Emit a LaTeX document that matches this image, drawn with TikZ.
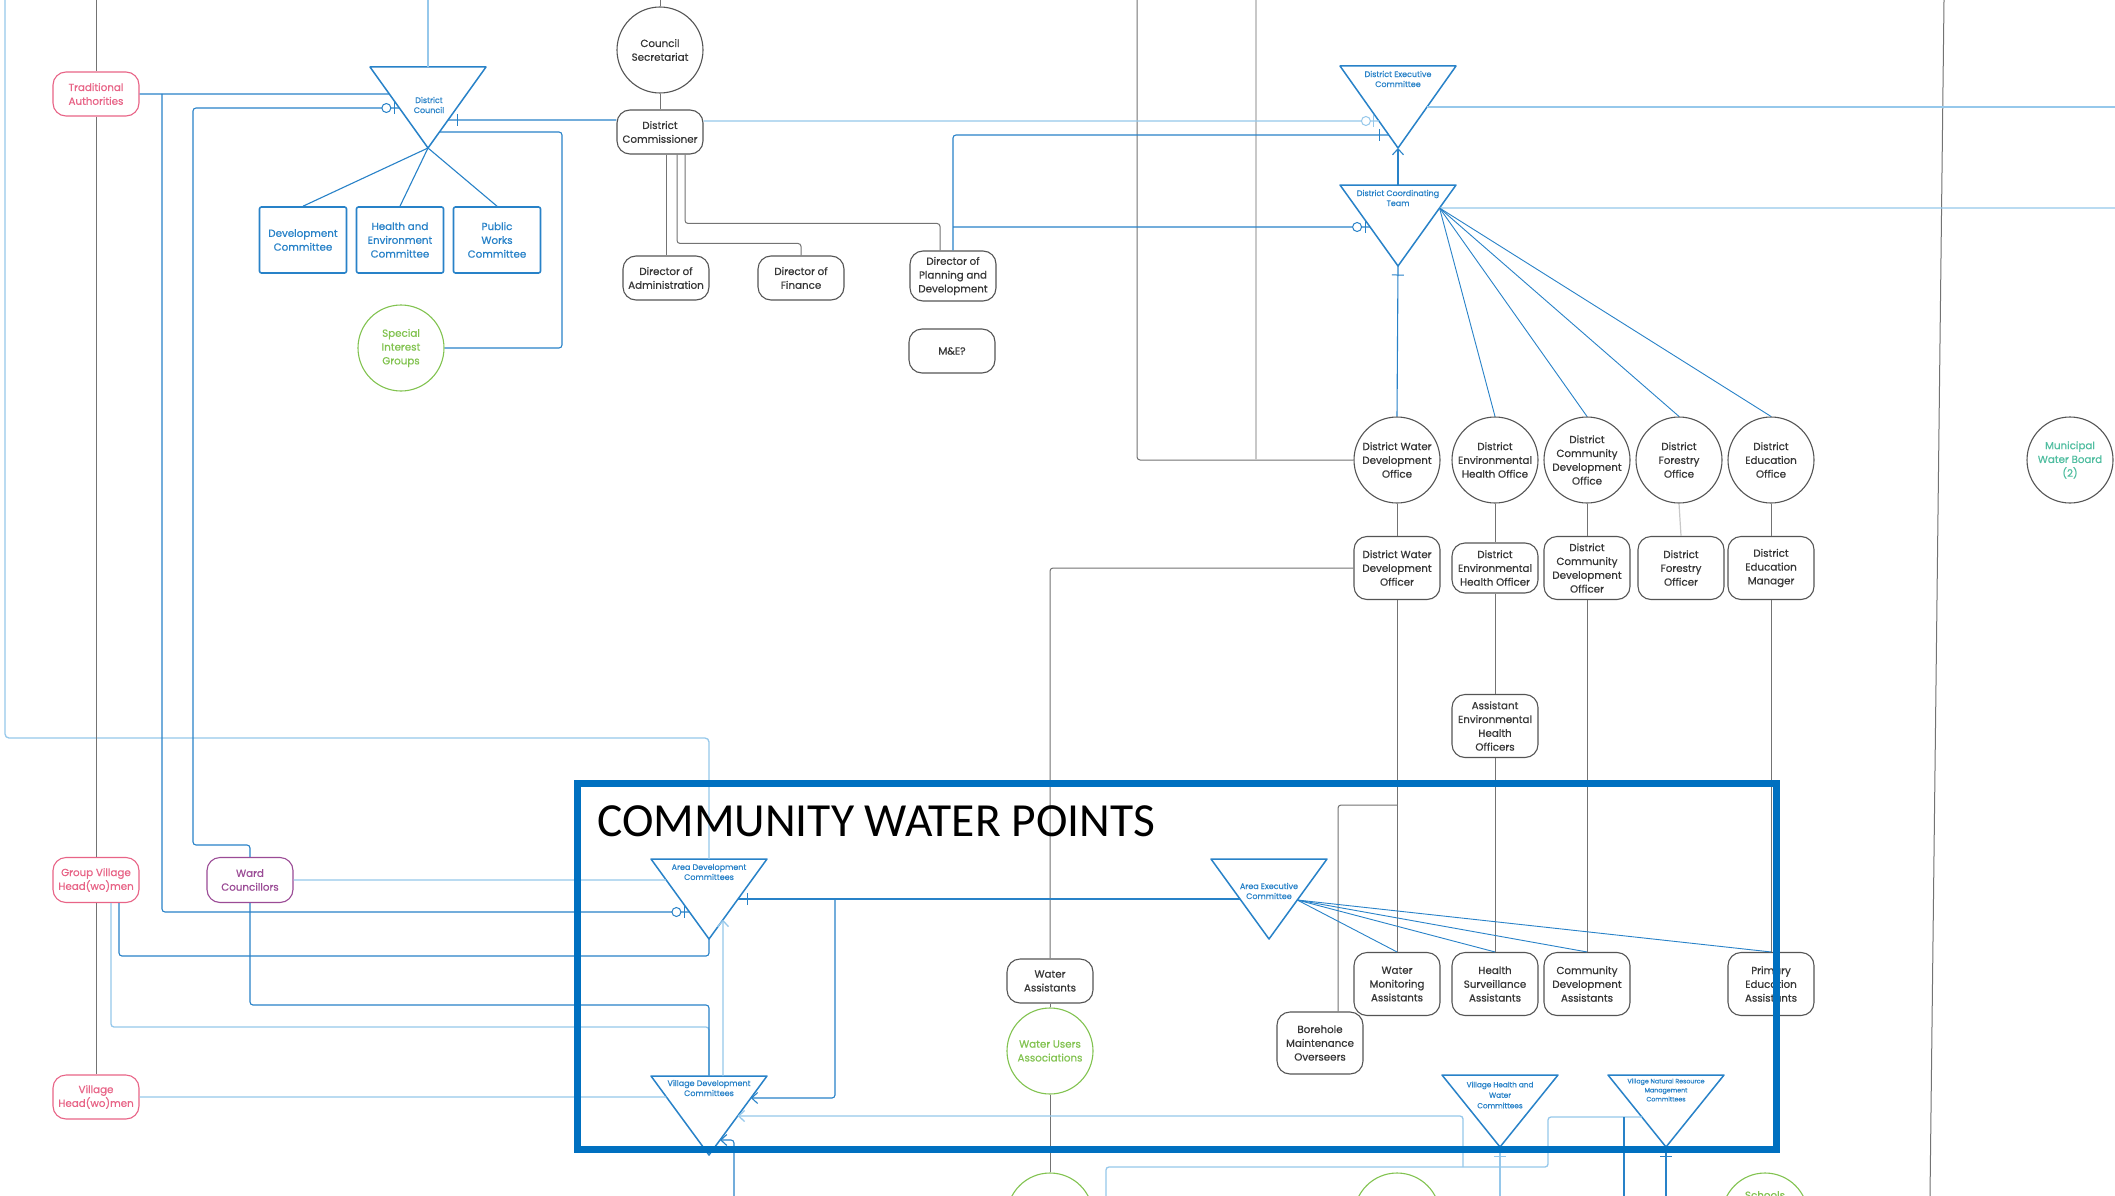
\documentclass[tikz,border=0pt]{standalone}
\usepackage{fontspec}
\setmainfont{Poppins}[FakeBold=0.6]
\newfontfamily\cwpfont{Carlito}
\usetikzlibrary{arrows.meta,calc,decorations.markings}
\definecolor{blueC}{RGB}{40,130,200}
\definecolor{lblue}{RGB}{150,200,235}
\definecolor{lineg}{RGB}{115,115,115}
\definecolor{ltg}{RGB}{200,200,200}
\definecolor{ngray}{RGB}{85,85,85}
\definecolor{txtg}{RGB}{55,55,55}
\definecolor{pinkC}{RGB}{232,100,135}
\definecolor{purC}{RGB}{155,75,150}
\definecolor{greenC}{RGB}{130,195,80}
\definecolor{tealC}{RGB}{80,190,160}
\definecolor{cwp}{RGB}{0,112,192}
\newcommand\invtri[4]{%
  \coordinate (#1-tl) at ({#2-58},#3);
  \coordinate (#1-tr) at ({#2+58},#3);
  \coordinate (#1-a) at (#2,#4);
  \coordinate (#1-t) at (#2,#3);
  \draw[tri] (#1-tl) -- (#1-tr) -- (#1-a) -- cycle;}
\newcommand\nd[5]{\node[#1] (#2) at (#3) {}; \node[#4] (#2-txt) at (#2.center) {#5};}
\begin{document}
\begin{tikzpicture}[x=1pt,y=-1pt,
  bl/.style={draw=blueC,line width=1.1pt},
  lbl/.style={draw=lblue,line width=1.3pt},
  gl/.style={draw=lineg,line width=1pt},
  lgl/.style={draw=ltg,line width=1.2pt},
  tri/.style={draw=blueC,line width=1.5pt,line join=round},
  rr/.style={draw=ngray,rounded corners=13pt,minimum width=86pt,minimum height=#1,inner sep=0,line width=1.1pt},
  rr/.default=44pt,
  cc/.style={draw=ngray,circle,minimum size=86pt,inner sep=0,line width=1.1pt},
  bx/.style={draw=blueC,rounded corners=2pt,minimum width=87pt,minimum height=66pt,inner sep=0,line width=1.6pt},
  tx/.style={align=center,font=\fontsize{10.3}{13.8}\selectfont,text=txtg,inner sep=0},
  trilab/.style={align=center,font=\fontsize{8}{10}\selectfont,text=blueC,inner sep=0},
  zo/.style={postaction={decorate,decoration={markings,mark=at position 1 with {\draw[draw=#1,fill=white,line width=1pt] (-13,0) circle (4.5); \draw[draw=#1,line width=1pt] (-5,-6)--(-5,6);}}}},
  ob/.style={postaction={decorate,decoration={markings,mark=at position 1 with {\draw[draw=#1,line width=1pt] (-9,-6)--(-9,6);}}}},
  barb/.style={-{Straight Barb[length=6pt,width=11pt]}}
]
\useasboundingbox (0,0) rectangle (2115,1196);
\fill[white] (0,0) rectangle (2115,1196);
\clip (0,0) rectangle (2115,1196);

% ---------- nodes ----------
\nd{rr,draw=pinkC}{TA}{96,94}{tx,text=pinkC}{Traditional\\Authorities}
\nd{cc}{CS}{660,50}{tx}{Council\\Secretariat}
\nd{rr}{DCom}{660,132}{tx}{District\\Commissioner}
\nd{rr}{DA}{666,278}{tx}{Director of\\Administration}
\nd{rr}{DF}{801,278}{tx}{Director of\\Finance}
\nd{rr=50pt}{DPD}{953,276}{tx}{Director of\\Planning and\\Development}
\nd{rr}{ME}{952,351}{tx}{M\&E?}
\nd{bx}{DevC}{303,240}{tx,text=blueC}{Development\\Committee}
\nd{bx}{HEC}{400,240}{tx,text=blueC}{Health and\\Environment\\Committee}
\nd{bx}{PWC}{497,240}{tx,text=blueC}{Public\\Works\\Committee}
\nd{cc,draw=greenC}{SIG}{401,348}{tx,text=greenC}{Special\\Interest\\Groups}

\nd{cc}{DWDO}{1397,460}{tx}{District Water\\Development\\Office}
\nd{cc}{DEHO}{1495,460}{tx}{District\\Environmental\\Health Office}
\nd{cc}{DCDO}{1587,460}{tx}{District\\Community\\Development\\Office}
\nd{cc}{DFO}{1679,460}{tx}{District\\Forestry\\Office}
\nd{cc}{DEO}{1771,460}{tx}{District\\Education\\Office}
\nd{cc}{MWB}{2070,460}{tx,text=tealC}{Municipal\\Water Board\\(2)}

\nd{rr=63pt}{DWDOf}{1397,568}{tx}{District Water\\Development\\Officer}
\nd{rr=50pt}{DEHOf}{1495,568}{tx}{District\\Environmental\\Health Officer}
\nd{rr=63pt}{DCDOf}{1587,568}{tx}{District\\Community\\Development\\Officer}
\nd{rr=63pt}{DFOf}{1681,568}{tx}{District\\Forestry\\Officer}
\nd{rr=63pt}{DEM}{1771,568}{tx}{District\\Education\\Manager}
\nd{rr=63pt}{AEHO}{1495,726}{tx}{Assistant\\Environmental\\Health\\Officers}

\nd{rr}{WA}{1050,981}{tx}{Water\\Assistants}
\nd{cc,draw=greenC}{WUA}{1050,1051}{tx,text=greenC}{Water Users\\Associations}
\nd{rr=63pt}{WMA}{1397,984}{tx}{Water\\Monitoring\\Assistants}
\nd{rr=63pt}{HSA}{1495,984}{tx}{Health\\Surveillance\\Assistants}
\nd{rr=63pt}{CDA}{1587,984}{tx}{Community\\Development\\Assistants}
\nd{rr=63pt}{PEA}{1771,984}{tx}{Primary\\Education\\Assistants}
\nd{rr=62pt}{BMO}{1320,1043}{tx}{Borehole\\Maintenance\\Overseers}

\nd{rr=45pt,draw=pinkC}{GVH}{96,880}{tx,text=pinkC}{Group Village\\Head(wo)men}
\nd{rr=45pt,draw=purC}{WC}{250,880}{tx,text=purC}{Ward\\Councillors}
\nd{rr=44pt,draw=pinkC}{VH}{96,1097}{tx,text=pinkC}{Village\\Head(wo)men}

\node[cc,draw=greenC] (B1) at (1050,1216) {};
\node[cc,draw=greenC] (B2) at (1397,1216) {};
\node[cc,draw=greenC] (B3) at (1765,1216) {};
\node[tx,text=greenC,anchor=north] (B3-txt) at (1765,1191) {Schools};

% ---------- triangles ----------
\invtri{DCt}{428}{67}{148}
\invtri{DEC}{1398}{66}{148}
\invtri{DCT}{1398}{185}{266}
\invtri{ADC}{709}{859}{939}
\invtri{AEC}{1269}{859}{939}
\invtri{VDC}{709}{1076}{1155}
\invtri{VHWC}{1500}{1075}{1147}
\invtri{VNR}{1666}{1075}{1147}
\node[trilab] (DCt-lab) at (429,105) {District\\Council};
\node[trilab] (DEC-lab) at (1398,79) {District Executive\\Committee};
\node[trilab] (DCT-lab) at (1398,198) {District Coordinating\\Team};
\node[trilab] (ADC-lab) at (709,872) {Area Development\\Committees};
\node[trilab] (AEC-lab) at (1269,891) {Area Executive\\Committee};
\node[trilab] (VDC-lab) at (709,1088) {Village Development\\Committees};
\node[trilab,font=\fontsize{7.3}{10.5}\selectfont] (VHWC-lab) at (1500,1095) {Village Health and\\Water\\Committees};
\node[trilab,font=\fontsize{6.3}{9}\selectfont] (VNR-lab) at (1666,1090) {Village Natural Resource\\Management\\Committees};

% edge points
\coordinate (DCt-l94) at ($(DCt-tl)!{27/81}!(DCt-a)$);
\coordinate (DCt-l108) at ($(DCt-tl)!{41/81}!(DCt-a)$);
\coordinate (DCt-r120) at ($(DCt-tr)!{53/81}!(DCt-a)$);
\coordinate (DCt-r132) at ($(DCt-tr)!{65/81}!(DCt-a)$);
\coordinate (DEC-l121) at ($(DEC-tl)!{55/82}!(DEC-a)$);
\coordinate (DEC-l135) at ($(DEC-tl)!{69/82}!(DEC-a)$);
\coordinate (DEC-r107) at ($(DEC-tr)!{41/82}!(DEC-a)$);
\coordinate (DCT-l227) at ($(DCT-tl)!{42/81}!(DCT-a)$);
\coordinate (DCT-r208) at ($(DCT-tr)!{23/81}!(DCT-a)$);
\coordinate (ADC-l880) at ($(ADC-tl)!{21/80}!(ADC-a)$);
\coordinate (ADC-l912) at ($(ADC-tl)!{53/80}!(ADC-a)$);
\coordinate (ADC-r899) at ($(ADC-tr)!{40/80}!(ADC-a)$);
\coordinate (ADC-rv) at ($(ADC-tr)!{44/58}!(ADC-a)$);
\coordinate (AEC-l899) at ($(AEC-tl)!{40/80}!(AEC-a)$);
\coordinate (AEC-r900) at ($(AEC-tr)!{41/80}!(AEC-a)$);
\coordinate (VDC-l1097) at ($(VDC-tl)!{21/79}!(VDC-a)$);
\coordinate (VDC-r1098) at ($(VDC-tr)!{22/79}!(VDC-a)$);
\coordinate (VDC-r1116) at ($(VDC-tr)!{40/79}!(VDC-a)$);
\coordinate (VDC-r1140) at ($(VDC-tr)!{64/79}!(VDC-a)$);
\coordinate (VNR-l1117) at ($(VNR-tl)!{42/72}!(VNR-a)$);

% ---------- connectors ----------
% long top verticals
\draw[lbl,rounded corners=4] (5,0) |- (ADC-t |- 0,738) -- (ADC-t);
\draw[gl] (TA.north |- 0,0) -- (TA.north);
\draw[gl] (TA.south) -- (GVH.north);
\draw[gl] (GVH.south) -- (VH.north);
\draw[lbl] (DCt-t |- 0,0) -- (DCt-t);
\draw[gl] (CS.north |- 0,0) -- (CS.north);
\draw[gl,rounded corners=3] (1137,0) |- (DWDO.west);
\draw[lgl] (1256,0) -- (1256,0 |- DWDO.west);
\draw[gl] (1944,0) -- (1930,1196);

% district council
\draw[bl] (TA.east) -- (DCt-l94);
\draw[bl,zo=blueC,rounded corners=3] (162,94) |- (ADC-l912);
\draw[bl,zo=blueC,rounded corners=3] (WC.north) |- (193,845) |- (DCt-l108);
\draw[bl,ob=blueC] ($(DCom.west)+(0,-12)$) -- (DCt-r120);
\draw[bl,rounded corners=3] (DCt-r132) -| (562,348) -- (SIG.east);
\draw[bl] (DCt-a) -- (DevC.north);
\draw[bl] (DCt-a) -- (HEC.north);
\draw[bl] (DCt-a) -- (PWC.north);

% commissioner
\draw[gl] (CS.south) -- (DCom.north);
\draw[gl] (DA.north |- DCom.south) -- (DA.north);
\draw[gl,rounded corners=3] ($(DCom.south)+(17,0)$) |- ($(DF.north)+(0,-12)$) -- (DF.north);
\draw[gl,rounded corners=3] ($(DCom.south)+(25,0)$) |- ($(DPD.north)+(-13,-27)$) -- ($(DPD.north)+(-13,0)$);
\draw[bl,ob=blueC,rounded corners=3] (DPD.north) |- (DEC-l135);
\draw[bl,zo=blueC] (DPD.north |- 0,227) -- (DCT-l227);
\draw[lbl,zo=lblue] ($(DCom.east)+(0,-11)$) -- (DEC-l121);
\draw[lbl] (DEC-r107) -- (2115,107);
\draw[lbl] (DCT-r208) -- (2115,208);
\draw[bl,barb] (DCT-t) -- (DEC-a);
\draw[bl,ob=blueC] (DWDO.north) -- (DCT-a);
\foreach \n in {DEHO,DCDO,DFO,DEO} \draw[bl,line width=0.9pt] (DCT-r208) -- (\n.north);

% offices
\draw[gl] (DWDO.south) -- (DWDOf.north);
\draw[gl] (DEHO.south) -- (DEHOf.north);
\draw[gl] (DCDO.south) -- (DCDOf.north);
\draw[lgl] (DFO.south) -- (DFOf.north);
\draw[gl] (DEO.south) -- (DEM.north);
\draw[gl,rounded corners=3] (DWDOf.west) -| (WA.north);
\draw[gl] (WA.south) -- (WUA.north);
\draw[gl] (WUA.south) -- (B1.north);
\draw[gl] (DWDOf.south) -- (WMA.north);
\draw[gl,rounded corners=3] (DWDOf.south |- 0,805) -| ($(BMO.north)+(18,0)$);
\draw[gl] (DEHOf.south) -- (AEHO.north);
\draw[gl] (AEHO.south) -- (HSA.north);
\draw[gl] (DCDOf.south) -- (CDA.north);
\draw[gl] (DEM.south) -- (PEA.north);

% area level
\foreach \n in {WMA,HSA,CDA,PEA} \draw[bl,line width=0.9pt] (AEC-r900) -- (\n.north);
\draw[bl,ob=blueC] (AEC-l899) -- (ADC-r899);
\draw[bl,barb,rounded corners=3] (835,899) |- (VDC-r1098);
\draw[lbl] (WC.east) -- (ADC-l880);
\draw[bl,rounded corners=3] ($(GVH.south)+(23,0)$) |- (ADC-a |- 0,956) -- (ADC-a);
\draw[lbl,rounded corners=3] ($(GVH.south)+(15,0)$) |- (VDC-t |- 0,1027) -- (VDC-t);
\draw[bl,rounded corners=3] (WC.south) |- (VDC-t |- 0,1005) -- (VDC-t);
\draw[lbl] (VH.east) -- (VDC-l1097);
\draw[lbl,barb] ($(VDC-t)+(14,0)$) -- (ADC-rv);
\draw[lbl,barb,rounded corners=3] (1463,1167) |- (VDC-r1116);
\draw[lbl,rounded corners=3] (1106,1196) |- (1548,1167) |- (VNR-l1117);
\draw[bl] (1624,1117) -- (1624,1196);
\draw[lbl,ob=lblue] (1500,1196) -- (VHWC-a);
\draw[bl,ob=blueC] (1666,1196) -- (VNR-a);
\draw[bl,barb,rounded corners=3] (734,1196) |- (VDC-r1140);

% community water points frame
\node[draw=cwp,line width=7pt,minimum width=1199pt,minimum height=366pt,inner sep=0] (CWP) at (1176.5,966) {};
\node[anchor=base west,font=\cwpfont\fontsize{47.5}{52}\selectfont,inner sep=0] (CWP-lab) at (597,836) {COMMUNITY WATER POINTS};
\end{tikzpicture}
\end{document}
